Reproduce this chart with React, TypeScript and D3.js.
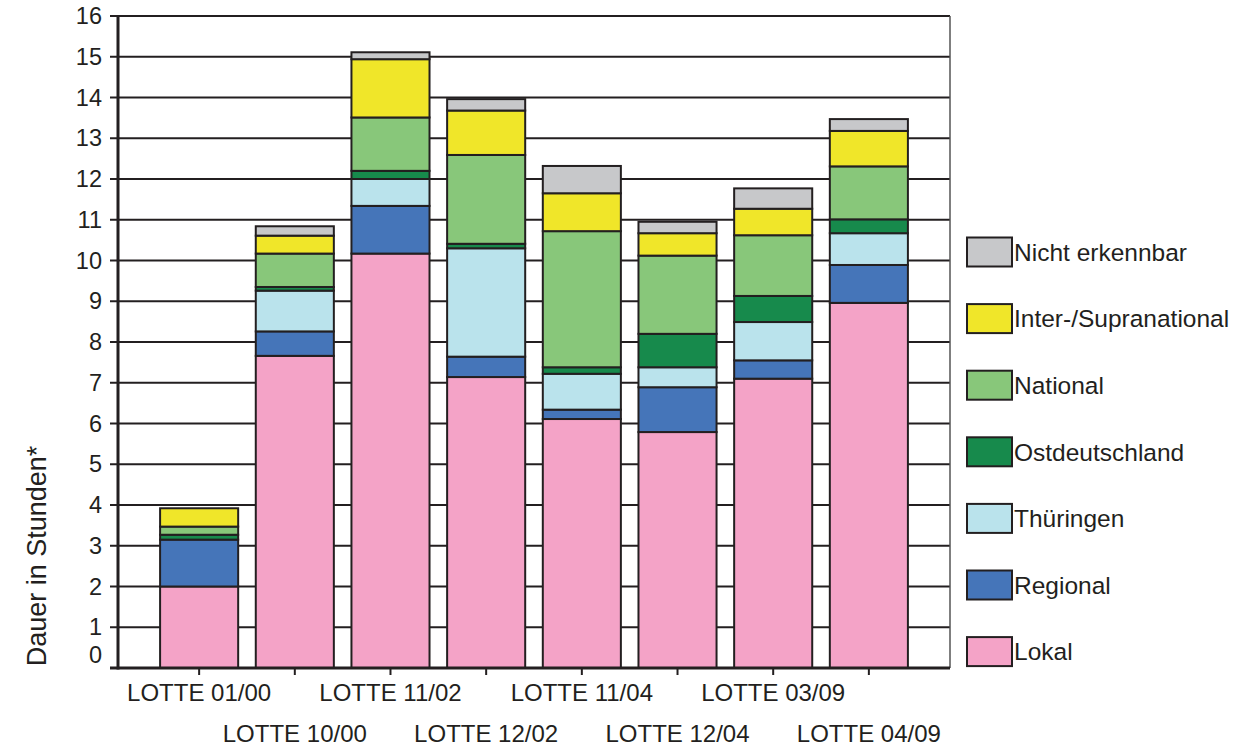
import { useMemo } from "react";
import * as d3 from "d3";

const categories = [
  "LOTTE 01/00",
  "LOTTE 10/00",
  "LOTTE 11/02",
  "LOTTE 12/02",
  "LOTTE 11/04",
  "LOTTE 12/04",
  "LOTTE 03/09",
  "LOTTE 04/09",
];

// series from bottom to top
const lokal = [2.0, 7.66, 10.17, 7.14, 6.11, 5.79, 7.1, 8.96];
const regional = [1.15, 0.6, 1.17, 0.5, 0.23, 1.1, 0.45, 0.93];
const thueringen = [0, 1.0, 0.66, 2.66, 0.88, 0.49, 0.94, 0.78];
const ostdeutschland = [0.12, 0.09, 0.2, 0.11, 0.16, 0.82, 0.64, 0.34];
const national = [0.2, 0.82, 1.31, 2.18, 3.34, 1.92, 1.49, 1.3];
const inter = [0.45, 0.44, 1.43, 1.09, 0.93, 0.55, 0.65, 0.87];
const nicht = [0.0, 0.23, 0.17, 0.28, 0.67, 0.28, 0.5, 0.29];

const seriesNames = [
  "Lokal",
  "Regional",
  "Thüringen",
  "Ostdeutschland",
  "National",
  "Inter-/Supranational",
  "Nicht erkennbar",
];
const seriesValues = [lokal, regional, thueringen, ostdeutschland, national, inter, nicht];
const colors = ["#F4A3C7", "#4575B9", "#BAE3EC", "#178A4C", "#88C77A", "#F0E629", "#C7C8CA"];

const yTicks = d3.range(0, 17);

const W = 1242;
const H = 746;
const left = 118;
const right = 950;
const top = 16;
const bottom = 668;
const ink = "#231F20";
const font = "'Liberation Sans', Arial, sans-serif";

export default function App() {
  const rows = useMemo(
    () =>
      categories.map((c, i) => {
        const r: any = { cat: c };
        seriesNames.forEach((s, j) => (r[s] = seriesValues[j][i]));
        return r;
      }),
    []
  );
  const stacked = d3.stack<any>().keys(seriesNames)(rows);

  const x = d3
    .scaleBand<string>()
    .domain(categories)
    .range([left, right])
    .paddingInner(0.184)
    .paddingOuter(0.44);
  const y = d3.scaleLinear().domain([0, 16]).range([bottom, top]);

  return (
    <svg
      width={W}
      height={H}
      style={{ position: "absolute", left: 0, top: 0, background: "#fff" }}
      fontFamily={font}
    >
      {/* grid */}
      {yTicks.slice(1).map((t) => (
        <line key={t} x1={left} x2={right} y1={y(t)} y2={y(t)} stroke={ink} strokeWidth={2} />
      ))}
      <line x1={right} x2={right} y1={top} y2={bottom} stroke="#555" strokeWidth={1.5} />

      {/* bars */}
      {stacked.map((layer, j) => (
        <g key={layer.key}>
          {layer.map((d, i) =>
            d[1] - d[0] > 0 ? (
              <rect
                key={i}
                x={x(categories[i])!}
                y={y(d[1])}
                width={x.bandwidth()}
                height={y(d[0]) - y(d[1])}
                fill={colors[j]}
                stroke={ink}
                strokeWidth={2}
              />
            ) : null
          )}
        </g>
      ))}

      {/* y axis */}
      <line x1={left} x2={left} y1={top - 1} y2={bottom + 1.5} stroke={ink} strokeWidth={3} />
      {yTicks.map((t) => (
        <g key={t}>
          <line x1={left - 8} x2={left} y1={y(t)} y2={y(t)} stroke={ink} strokeWidth={2} />
          <text
            x={102}
            y={t === 0 ? y(t) - 13 : y(t)}
            dy="0.35em"
            textAnchor="end"
            fontSize={23.5}
            fill={ink}
          >
            {t}
          </text>
        </g>
      ))}

      {/* x axis */}
      <line x1={left - 8} x2={right} y1={bottom} y2={bottom} stroke={ink} strokeWidth={3} />
      {categories.map((c, i) => {
        const cx = x(c)! + x.bandwidth() / 2;
        return (
          <g key={c}>
            <line x1={cx} x2={cx} y1={bottom} y2={bottom + 7} stroke={ink} strokeWidth={2} />
            <text
              x={cx}
              y={i % 2 === 0 ? 701 : 742}
              textAnchor="middle"
              fontSize={24}
              fill={ink}
            >
              {c}
            </text>
          </g>
        );
      })}

      <text
        transform={`translate(46,556) rotate(-90)`}
        textAnchor="middle"
        fontSize={27}
        fill={ink}
      >
        Dauer in Stunden*
      </text>

      {/* legend */}
      {seriesNames
        .slice()
        .reverse()
        .map((s, k) => {
          const j = seriesNames.length - 1 - k;
          const by = 237.5 + k * 66.6;
          return (
            <g key={s}>
              <rect x={967} y={by} width={45} height={29} fill={colors[j]} stroke={ink} strokeWidth={2} />
              <text x={1014} y={by + 14.5} dy="0.36em" fontSize={24.5} fill={ink}>
                {s}
              </text>
            </g>
          );
        })}
    </svg>
  );
}
